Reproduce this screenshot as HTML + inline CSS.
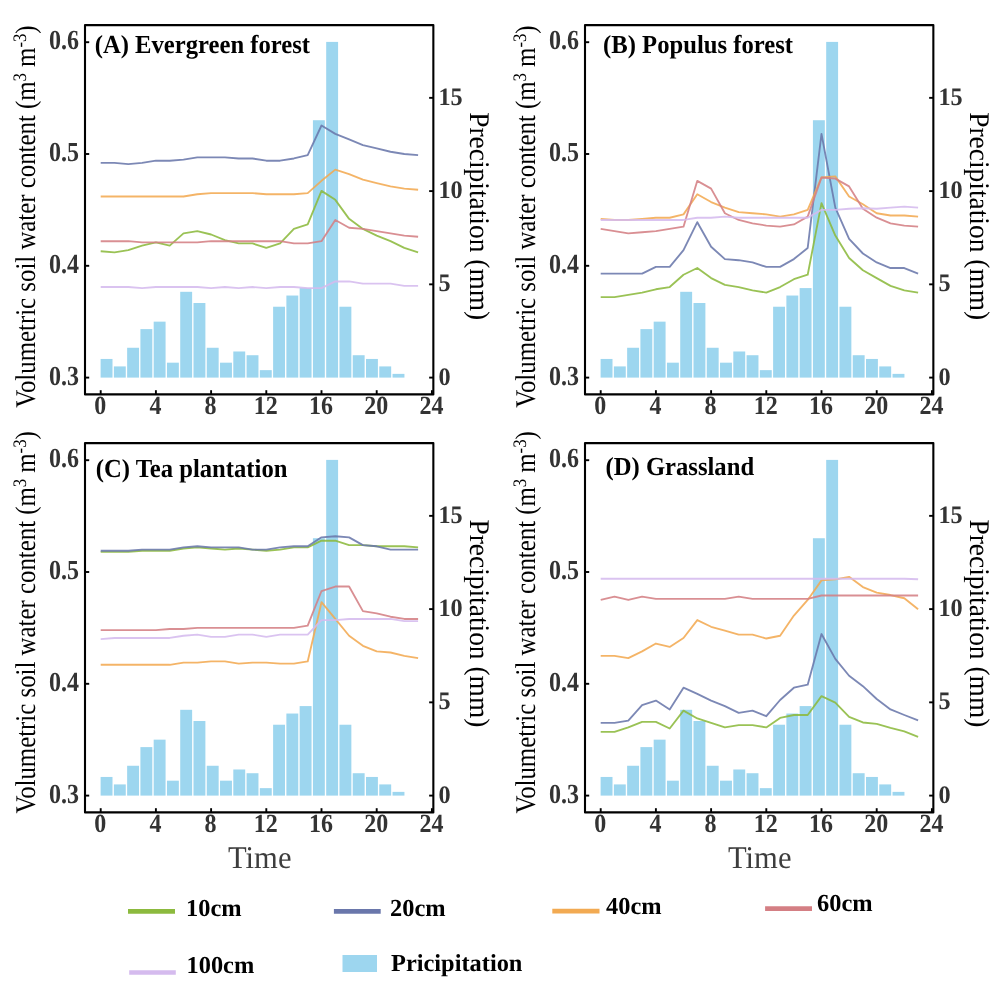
<!DOCTYPE html>
<html><head><meta charset="utf-8"><title>Soil water content</title>
<style>html,body{margin:0;padding:0;background:#fff}svg{display:block;will-change:transform;text-rendering:geometricPrecision}text{font-family:"Liberation Serif",serif}.tk{font-weight:bold;font-size:27.6px;fill:#333333}.ti{font-weight:bold;font-size:26px;fill:#000}.lg{font-weight:bold;font-size:24.4px;fill:#000}.yl{font-size:28.5px;fill:#000}.tm{font-size:31.6px;fill:#3d3d3d}</style></head><body>
<svg width="1000" height="1006" viewBox="0 0 1000 1006">
<rect width="1000" height="1006" fill="#fff"/>
<g transform="translate(0,0)">
<g fill="#9dd6ef">
<rect x="100.6" y="358.95" width="11.9" height="18.65"/>
<rect x="113.87" y="366.41" width="11.9" height="11.19"/>
<rect x="127.14" y="347.76" width="11.9" height="29.84"/>
<rect x="140.41" y="329.11" width="11.9" height="48.49"/>
<rect x="153.68" y="321.65" width="11.9" height="55.95"/>
<rect x="166.95" y="362.68" width="11.9" height="14.92"/>
<rect x="180.22" y="291.81" width="11.9" height="85.79"/>
<rect x="193.49" y="303" width="11.9" height="74.6"/>
<rect x="206.76" y="347.76" width="11.9" height="29.84"/>
<rect x="220.03" y="362.68" width="11.9" height="14.92"/>
<rect x="233.3" y="351.49" width="11.9" height="26.11"/>
<rect x="246.57" y="355.22" width="11.9" height="22.38"/>
<rect x="259.84" y="370.14" width="11.9" height="7.46"/>
<rect x="273.11" y="306.73" width="11.9" height="70.87"/>
<rect x="286.38" y="295.54" width="11.9" height="82.06"/>
<rect x="299.65" y="288.08" width="11.9" height="89.52"/>
<rect x="312.92" y="120.23" width="11.9" height="257.37"/>
<rect x="326.19" y="41.9" width="11.9" height="335.7"/>
<rect x="339.46" y="306.73" width="11.9" height="70.87"/>
<rect x="352.73" y="355.22" width="11.9" height="22.38"/>
<rect x="366" y="358.95" width="11.9" height="18.65"/>
<rect x="379.27" y="366.41" width="11.9" height="11.19"/>
<rect x="392.54" y="373.87" width="11.9" height="3.73"/>
</g>
<g fill="none" stroke-width="1.85" stroke-opacity="0.88" stroke-linejoin="round">
<polyline stroke="#8cba3e" points="100.7,251.27 114.5,252.38 128.3,250.15 142.1,245.68 155.9,242.32 169.7,245.68 183.5,233.38 197.3,231.14 211.1,234.5 224.9,240.09 238.7,243.44 252.5,243.44 266.3,247.91 280.1,243.44 293.9,228.91 307.7,224.43 321.5,190.89 335.3,199.84 349.1,218.84 362.9,228.91 376.7,235.61 390.5,241.2 404.3,247.91 418.1,252.38"/>
<polyline stroke="#6a77ab" points="100.7,162.94 114.5,162.94 128.3,164.06 142.1,162.94 155.9,160.71 169.7,160.71 183.5,159.59 197.3,157.35 211.1,157.35 224.9,157.35 238.7,158.47 252.5,158.47 266.3,160.71 280.1,160.71 293.9,158.47 307.7,155.12 321.5,125.49 335.3,133.88 349.1,139.47 362.9,145.06 376.7,148.41 390.5,151.76 404.3,154 418.1,155.12"/>
<polyline stroke="#f2aa52" points="100.7,196.48 114.5,196.48 128.3,196.48 142.1,196.48 155.9,196.48 169.7,196.48 183.5,196.48 197.3,194.25 211.1,193.13 224.9,193.13 238.7,193.13 252.5,193.13 266.3,194.25 280.1,194.25 293.9,194.25 307.7,193.13 321.5,180.83 335.3,169.65 349.1,174.12 362.9,179.71 376.7,183.07 390.5,186.42 404.3,188.66 418.1,189.78"/>
<polyline stroke="#d47f84" points="100.7,241.2 114.5,241.2 128.3,241.2 142.1,242.32 155.9,242.32 169.7,242.32 183.5,242.32 197.3,242.32 211.1,241.2 224.9,241.2 238.7,241.2 252.5,241.2 266.3,241.2 280.1,241.2 293.9,243.44 307.7,243.44 321.5,241.2 335.3,219.96 349.1,227.79 362.9,228.91 376.7,231.14 390.5,233.38 404.3,235.61 418.1,236.73"/>
<polyline stroke="#d5bbee" points="100.7,287.04 114.5,287.04 128.3,287.04 142.1,288.16 155.9,287.04 169.7,287.04 183.5,287.04 197.3,287.04 211.1,288.16 224.9,287.04 238.7,288.16 252.5,287.04 266.3,288.16 280.1,287.04 293.9,287.04 307.7,288.16 321.5,288.16 335.3,281.45 349.1,281.45 362.9,283.69 376.7,283.69 390.5,283.69 404.3,285.92 418.1,285.92"/>
</g>
<rect x="85" y="25.1" width="348.35" height="369.3" fill="none" stroke="#000" stroke-width="2.1" stroke-linejoin="round"/>
<g stroke="#000" stroke-width="1.9">
<line x1="85" y1="377.6" x2="89.2" y2="377.6"/>
<line x1="85" y1="265.8" x2="89.2" y2="265.8"/>
<line x1="85" y1="154" x2="89.2" y2="154"/>
<line x1="85" y1="42.2" x2="89.2" y2="42.2"/>
<line x1="429.15" y1="377.6" x2="433.35" y2="377.6"/>
<line x1="429.15" y1="284.35" x2="433.35" y2="284.35"/>
<line x1="429.15" y1="191.1" x2="433.35" y2="191.1"/>
<line x1="429.15" y1="97.85" x2="433.35" y2="97.85"/>
<line x1="100.7" y1="390.2" x2="100.7" y2="394.4"/>
<line x1="155.9" y1="390.2" x2="155.9" y2="394.4"/>
<line x1="211.1" y1="390.2" x2="211.1" y2="394.4"/>
<line x1="266.3" y1="390.2" x2="266.3" y2="394.4"/>
<line x1="321.5" y1="390.2" x2="321.5" y2="394.4"/>
<line x1="376.7" y1="390.2" x2="376.7" y2="394.4"/>
<line x1="431.9" y1="390.2" x2="431.9" y2="394.4"/>
</g>
<text class="tk" transform="translate(79,384.6) scale(0.87,1)" text-anchor="end">0.3</text>
<text class="tk" transform="translate(79,272.8) scale(0.87,1)" text-anchor="end">0.4</text>
<text class="tk" transform="translate(79,161) scale(0.87,1)" text-anchor="end">0.5</text>
<text class="tk" transform="translate(79,49.2) scale(0.87,1)" text-anchor="end">0.6</text>
<text class="tk" style="font-size:25.1px" transform="translate(438.4,384.5) scale(0.965,1)">0</text>
<text class="tk" style="font-size:25.1px" transform="translate(438.4,291.25) scale(0.965,1)">5</text>
<text class="tk" style="font-size:25.1px" transform="translate(438.4,198) scale(0.965,1)">10</text>
<text class="tk" style="font-size:25.1px" transform="translate(438.4,104.75) scale(0.965,1)">15</text>
<text class="tk" style="font-size:26.2px" transform="translate(100.2,413.9) scale(0.916,1)" text-anchor="middle">0</text>
<text class="tk" style="font-size:26.2px" transform="translate(155.4,413.9) scale(0.916,1)" text-anchor="middle">4</text>
<text class="tk" style="font-size:26.2px" transform="translate(210.6,413.9) scale(0.916,1)" text-anchor="middle">8</text>
<text class="tk" style="font-size:26.2px" transform="translate(265.8,413.9) scale(0.916,1)" text-anchor="middle">12</text>
<text class="tk" style="font-size:26.2px" transform="translate(321,413.9) scale(0.916,1)" text-anchor="middle">16</text>
<text class="tk" style="font-size:26.2px" transform="translate(376.2,413.9) scale(0.916,1)" text-anchor="middle">20</text>
<text class="tk" style="font-size:26.2px" transform="translate(431.4,413.9) scale(0.916,1)" text-anchor="middle">24</text>
<text class="yl" transform="translate(34.8,407.8) rotate(-90)" textLength="382.3" lengthAdjust="spacingAndGlyphs">Volumetric soil water content (m<tspan dy="-9.3" font-size="19">3</tspan><tspan dy="9.3"> m</tspan><tspan dy="-9.3" font-size="19">-3</tspan><tspan dy="9.3">)</tspan></text>
<text class="yl" transform="translate(469.8,112.2) rotate(90)" textLength="208" lengthAdjust="spacingAndGlyphs">Precipitation (mm)</text>
<text class="ti" transform="translate(94.7,52.8) scale(0.948,1)">(A) Evergreen forest</text>
</g>
<g transform="translate(500,0)">
<g fill="#9dd6ef">
<rect x="100.6" y="358.95" width="11.9" height="18.65"/>
<rect x="113.87" y="366.41" width="11.9" height="11.19"/>
<rect x="127.14" y="347.76" width="11.9" height="29.84"/>
<rect x="140.41" y="329.11" width="11.9" height="48.49"/>
<rect x="153.68" y="321.65" width="11.9" height="55.95"/>
<rect x="166.95" y="362.68" width="11.9" height="14.92"/>
<rect x="180.22" y="291.81" width="11.9" height="85.79"/>
<rect x="193.49" y="303" width="11.9" height="74.6"/>
<rect x="206.76" y="347.76" width="11.9" height="29.84"/>
<rect x="220.03" y="362.68" width="11.9" height="14.92"/>
<rect x="233.3" y="351.49" width="11.9" height="26.11"/>
<rect x="246.57" y="355.22" width="11.9" height="22.38"/>
<rect x="259.84" y="370.14" width="11.9" height="7.46"/>
<rect x="273.11" y="306.73" width="11.9" height="70.87"/>
<rect x="286.38" y="295.54" width="11.9" height="82.06"/>
<rect x="299.65" y="288.08" width="11.9" height="89.52"/>
<rect x="312.92" y="120.23" width="11.9" height="257.37"/>
<rect x="326.19" y="41.9" width="11.9" height="335.7"/>
<rect x="339.46" y="306.73" width="11.9" height="70.87"/>
<rect x="352.73" y="355.22" width="11.9" height="22.38"/>
<rect x="366" y="358.95" width="11.9" height="18.65"/>
<rect x="379.27" y="366.41" width="11.9" height="11.19"/>
<rect x="392.54" y="373.87" width="11.9" height="3.73"/>
</g>
<g fill="none" stroke-width="1.85" stroke-opacity="0.88" stroke-linejoin="round">
<polyline stroke="#8cba3e" points="100.7,297.1 114.5,297.1 128.3,294.87 142.1,292.63 155.9,289.28 169.7,287.04 183.5,274.74 197.3,268.04 211.1,278.1 224.9,284.81 238.7,287.04 252.5,290.4 266.3,292.63 280.1,287.04 293.9,279.22 307.7,274.74 321.5,203.19 335.3,235.61 349.1,257.97 362.9,270.27 376.7,278.1 390.5,285.92 404.3,290.4 418.1,292.63"/>
<polyline stroke="#6a77ab" points="100.7,273.63 114.5,273.63 128.3,273.63 142.1,273.63 155.9,266.92 169.7,266.92 183.5,250.15 197.3,222.2 211.1,246.79 224.9,259.09 238.7,260.21 252.5,262.45 266.3,266.92 280.1,266.92 293.9,259.09 307.7,247.91 321.5,133.88 335.3,207.66 349.1,238.97 362.9,253.5 376.7,262.45 390.5,268.04 404.3,268.04 418.1,273.63"/>
<polyline stroke="#f2aa52" points="100.7,218.84 114.5,219.96 128.3,219.96 142.1,218.84 155.9,217.73 169.7,217.73 183.5,214.37 197.3,194.25 211.1,202.07 224.9,207.66 238.7,212.14 252.5,213.25 266.3,214.37 280.1,216.61 293.9,214.37 307.7,209.9 321.5,177.48 335.3,176.36 349.1,196.48 362.9,204.31 376.7,213.25 390.5,215.49 404.3,215.49 418.1,216.61"/>
<polyline stroke="#d47f84" points="100.7,228.91 114.5,231.14 128.3,233.38 142.1,232.26 155.9,231.14 169.7,228.91 183.5,226.67 197.3,180.83 211.1,188.66 224.9,213.25 238.7,219.96 252.5,223.32 266.3,225.55 280.1,226.67 293.9,224.43 307.7,216.61 321.5,177.48 335.3,178.6 349.1,186.42 362.9,208.78 376.7,217.73 390.5,223.32 404.3,225.55 418.1,226.67"/>
<polyline stroke="#d5bbee" points="100.7,219.96 114.5,219.96 128.3,219.96 142.1,219.96 155.9,219.96 169.7,219.96 183.5,219.96 197.3,217.73 211.1,217.73 224.9,216.61 238.7,217.73 252.5,217.73 266.3,217.73 280.1,217.73 293.9,217.73 307.7,217.73 321.5,209.9 335.3,209.9 349.1,208.78 362.9,208.22 376.7,208.78 390.5,207.66 404.3,206.55 418.1,207.66"/>
</g>
<rect x="85" y="25.1" width="348.35" height="369.3" fill="none" stroke="#000" stroke-width="2.1" stroke-linejoin="round"/>
<g stroke="#000" stroke-width="1.9">
<line x1="85" y1="377.6" x2="89.2" y2="377.6"/>
<line x1="85" y1="265.8" x2="89.2" y2="265.8"/>
<line x1="85" y1="154" x2="89.2" y2="154"/>
<line x1="85" y1="42.2" x2="89.2" y2="42.2"/>
<line x1="429.15" y1="377.6" x2="433.35" y2="377.6"/>
<line x1="429.15" y1="284.35" x2="433.35" y2="284.35"/>
<line x1="429.15" y1="191.1" x2="433.35" y2="191.1"/>
<line x1="429.15" y1="97.85" x2="433.35" y2="97.85"/>
<line x1="100.7" y1="390.2" x2="100.7" y2="394.4"/>
<line x1="155.9" y1="390.2" x2="155.9" y2="394.4"/>
<line x1="211.1" y1="390.2" x2="211.1" y2="394.4"/>
<line x1="266.3" y1="390.2" x2="266.3" y2="394.4"/>
<line x1="321.5" y1="390.2" x2="321.5" y2="394.4"/>
<line x1="376.7" y1="390.2" x2="376.7" y2="394.4"/>
<line x1="431.9" y1="390.2" x2="431.9" y2="394.4"/>
</g>
<text class="tk" transform="translate(79,384.6) scale(0.87,1)" text-anchor="end">0.3</text>
<text class="tk" transform="translate(79,272.8) scale(0.87,1)" text-anchor="end">0.4</text>
<text class="tk" transform="translate(79,161) scale(0.87,1)" text-anchor="end">0.5</text>
<text class="tk" transform="translate(79,49.2) scale(0.87,1)" text-anchor="end">0.6</text>
<text class="tk" style="font-size:25.1px" transform="translate(438.4,384.5) scale(0.965,1)">0</text>
<text class="tk" style="font-size:25.1px" transform="translate(438.4,291.25) scale(0.965,1)">5</text>
<text class="tk" style="font-size:25.1px" transform="translate(438.4,198) scale(0.965,1)">10</text>
<text class="tk" style="font-size:25.1px" transform="translate(438.4,104.75) scale(0.965,1)">15</text>
<text class="tk" style="font-size:26.2px" transform="translate(100.2,413.9) scale(0.916,1)" text-anchor="middle">0</text>
<text class="tk" style="font-size:26.2px" transform="translate(155.4,413.9) scale(0.916,1)" text-anchor="middle">4</text>
<text class="tk" style="font-size:26.2px" transform="translate(210.6,413.9) scale(0.916,1)" text-anchor="middle">8</text>
<text class="tk" style="font-size:26.2px" transform="translate(265.8,413.9) scale(0.916,1)" text-anchor="middle">12</text>
<text class="tk" style="font-size:26.2px" transform="translate(321,413.9) scale(0.916,1)" text-anchor="middle">16</text>
<text class="tk" style="font-size:26.2px" transform="translate(376.2,413.9) scale(0.916,1)" text-anchor="middle">20</text>
<text class="tk" style="font-size:26.2px" transform="translate(431.4,413.9) scale(0.916,1)" text-anchor="middle">24</text>
<text class="yl" transform="translate(34.8,407.8) rotate(-90)" textLength="382.3" lengthAdjust="spacingAndGlyphs">Volumetric soil water content (m<tspan dy="-9.3" font-size="19">3</tspan><tspan dy="9.3"> m</tspan><tspan dy="-9.3" font-size="19">-3</tspan><tspan dy="9.3">)</tspan></text>
<text class="yl" transform="translate(469.8,112.2) rotate(90)" textLength="208" lengthAdjust="spacingAndGlyphs">Precipitation (mm)</text>
<text class="ti" transform="translate(103.1,52.8) scale(0.948,1)">(B) Populus forest</text>
</g>
<g transform="translate(0,418)">
<g fill="#9dd6ef">
<rect x="100.6" y="358.95" width="11.9" height="18.65"/>
<rect x="113.87" y="366.41" width="11.9" height="11.19"/>
<rect x="127.14" y="347.76" width="11.9" height="29.84"/>
<rect x="140.41" y="329.11" width="11.9" height="48.49"/>
<rect x="153.68" y="321.65" width="11.9" height="55.95"/>
<rect x="166.95" y="362.68" width="11.9" height="14.92"/>
<rect x="180.22" y="291.81" width="11.9" height="85.79"/>
<rect x="193.49" y="303" width="11.9" height="74.6"/>
<rect x="206.76" y="347.76" width="11.9" height="29.84"/>
<rect x="220.03" y="362.68" width="11.9" height="14.92"/>
<rect x="233.3" y="351.49" width="11.9" height="26.11"/>
<rect x="246.57" y="355.22" width="11.9" height="22.38"/>
<rect x="259.84" y="370.14" width="11.9" height="7.46"/>
<rect x="273.11" y="306.73" width="11.9" height="70.87"/>
<rect x="286.38" y="295.54" width="11.9" height="82.06"/>
<rect x="299.65" y="288.08" width="11.9" height="89.52"/>
<rect x="312.92" y="120.23" width="11.9" height="257.37"/>
<rect x="326.19" y="41.9" width="11.9" height="335.7"/>
<rect x="339.46" y="306.73" width="11.9" height="70.87"/>
<rect x="352.73" y="355.22" width="11.9" height="22.38"/>
<rect x="366" y="358.95" width="11.9" height="18.65"/>
<rect x="379.27" y="366.41" width="11.9" height="11.19"/>
<rect x="392.54" y="373.87" width="11.9" height="3.73"/>
</g>
<g fill="none" stroke-width="1.85" stroke-opacity="0.88" stroke-linejoin="round">
<polyline stroke="#8cba3e" points="100.7,133.88 114.5,133.88 128.3,133.88 142.1,132.76 155.9,132.76 169.7,132.76 183.5,130.52 197.3,129.4 211.1,130.52 224.9,131.64 238.7,130.52 252.5,131.64 266.3,132.76 280.1,131.64 293.9,129.4 307.7,129.4 321.5,122.7 335.3,122.7 349.1,127.17 362.9,127.17 376.7,128.29 390.5,128.29 404.3,128.29 418.1,129.4"/>
<polyline stroke="#6a77ab" points="100.7,132.76 114.5,132.76 128.3,132.76 142.1,131.64 155.9,131.64 169.7,131.64 183.5,129.4 197.3,128.29 211.1,129.4 224.9,129.4 238.7,129.4 252.5,131.64 266.3,131.64 280.1,129.4 293.9,128.29 307.7,128.29 321.5,119.34 335.3,118.22 349.1,119.34 362.9,127.17 376.7,128.29 390.5,131.64 404.3,131.64 418.1,131.64"/>
<polyline stroke="#f2aa52" points="100.7,246.79 114.5,246.79 128.3,246.79 142.1,246.79 155.9,246.79 169.7,246.79 183.5,244.56 197.3,244.56 211.1,243.44 224.9,243.44 238.7,245.68 252.5,244.56 266.3,244.56 280.1,245.68 293.9,245.68 307.7,243.44 321.5,184.19 335.3,200.96 349.1,217.73 362.9,227.79 376.7,233.38 390.5,234.5 404.3,237.85 418.1,240.09"/>
<polyline stroke="#d47f84" points="100.7,212.14 114.5,212.14 128.3,212.14 142.1,212.14 155.9,212.14 169.7,211.02 183.5,211.02 197.3,209.9 211.1,209.9 224.9,209.9 238.7,209.9 252.5,209.9 266.3,209.9 280.1,209.9 293.9,209.9 307.7,207.66 321.5,173.01 335.3,168.53 349.1,168.53 362.9,193.13 376.7,195.37 390.5,198.72 404.3,200.96 418.1,200.96"/>
<polyline stroke="#d5bbee" points="100.7,221.08 114.5,219.96 128.3,219.96 142.1,219.96 155.9,219.96 169.7,219.96 183.5,217.73 197.3,216.61 211.1,218.84 224.9,218.84 238.7,216.61 252.5,216.61 266.3,218.84 280.1,216.61 293.9,216.61 307.7,216.61 321.5,202.07 335.3,202.07 349.1,200.96 362.9,200.96 376.7,200.96 390.5,200.96 404.3,203.19 418.1,203.19"/>
</g>
<rect x="85" y="25.1" width="348.35" height="369.3" fill="none" stroke="#000" stroke-width="2.1" stroke-linejoin="round"/>
<g stroke="#000" stroke-width="1.9">
<line x1="85" y1="377.6" x2="89.2" y2="377.6"/>
<line x1="85" y1="265.8" x2="89.2" y2="265.8"/>
<line x1="85" y1="154" x2="89.2" y2="154"/>
<line x1="85" y1="42.2" x2="89.2" y2="42.2"/>
<line x1="429.15" y1="377.6" x2="433.35" y2="377.6"/>
<line x1="429.15" y1="284.35" x2="433.35" y2="284.35"/>
<line x1="429.15" y1="191.1" x2="433.35" y2="191.1"/>
<line x1="429.15" y1="97.85" x2="433.35" y2="97.85"/>
<line x1="100.7" y1="390.2" x2="100.7" y2="394.4"/>
<line x1="155.9" y1="390.2" x2="155.9" y2="394.4"/>
<line x1="211.1" y1="390.2" x2="211.1" y2="394.4"/>
<line x1="266.3" y1="390.2" x2="266.3" y2="394.4"/>
<line x1="321.5" y1="390.2" x2="321.5" y2="394.4"/>
<line x1="376.7" y1="390.2" x2="376.7" y2="394.4"/>
<line x1="431.9" y1="390.2" x2="431.9" y2="394.4"/>
</g>
<text class="tk" transform="translate(79,384.6) scale(0.87,1)" text-anchor="end">0.3</text>
<text class="tk" transform="translate(79,272.8) scale(0.87,1)" text-anchor="end">0.4</text>
<text class="tk" transform="translate(79,161) scale(0.87,1)" text-anchor="end">0.5</text>
<text class="tk" transform="translate(79,49.2) scale(0.87,1)" text-anchor="end">0.6</text>
<text class="tk" style="font-size:25.1px" transform="translate(438.4,384.5) scale(0.965,1)">0</text>
<text class="tk" style="font-size:25.1px" transform="translate(438.4,291.25) scale(0.965,1)">5</text>
<text class="tk" style="font-size:25.1px" transform="translate(438.4,198) scale(0.965,1)">10</text>
<text class="tk" style="font-size:25.1px" transform="translate(438.4,104.75) scale(0.965,1)">15</text>
<text class="tk" style="font-size:26.2px" transform="translate(100.2,413.9) scale(0.916,1)" text-anchor="middle">0</text>
<text class="tk" style="font-size:26.2px" transform="translate(155.4,413.9) scale(0.916,1)" text-anchor="middle">4</text>
<text class="tk" style="font-size:26.2px" transform="translate(210.6,413.9) scale(0.916,1)" text-anchor="middle">8</text>
<text class="tk" style="font-size:26.2px" transform="translate(265.8,413.9) scale(0.916,1)" text-anchor="middle">12</text>
<text class="tk" style="font-size:26.2px" transform="translate(321,413.9) scale(0.916,1)" text-anchor="middle">16</text>
<text class="tk" style="font-size:26.2px" transform="translate(376.2,413.9) scale(0.916,1)" text-anchor="middle">20</text>
<text class="tk" style="font-size:26.2px" transform="translate(431.4,413.9) scale(0.916,1)" text-anchor="middle">24</text>
<text class="yl" transform="translate(34.8,395.6) rotate(-90)" textLength="382.3" lengthAdjust="spacingAndGlyphs">Volumetric soil water content (m<tspan dy="-9.3" font-size="19">3</tspan><tspan dy="9.3"> m</tspan><tspan dy="-9.3" font-size="19">-3</tspan><tspan dy="9.3">)</tspan></text>
<text class="yl" transform="translate(469.8,101.4) rotate(90)" textLength="208" lengthAdjust="spacingAndGlyphs">Precipitation (mm)</text>
<text class="ti" transform="translate(95.7,59) scale(0.948,1)">(C) Tea plantation</text>
</g>
<g transform="translate(500,418)">
<g fill="#9dd6ef">
<rect x="100.6" y="358.95" width="11.9" height="18.65"/>
<rect x="113.87" y="366.41" width="11.9" height="11.19"/>
<rect x="127.14" y="347.76" width="11.9" height="29.84"/>
<rect x="140.41" y="329.11" width="11.9" height="48.49"/>
<rect x="153.68" y="321.65" width="11.9" height="55.95"/>
<rect x="166.95" y="362.68" width="11.9" height="14.92"/>
<rect x="180.22" y="291.81" width="11.9" height="85.79"/>
<rect x="193.49" y="303" width="11.9" height="74.6"/>
<rect x="206.76" y="347.76" width="11.9" height="29.84"/>
<rect x="220.03" y="362.68" width="11.9" height="14.92"/>
<rect x="233.3" y="351.49" width="11.9" height="26.11"/>
<rect x="246.57" y="355.22" width="11.9" height="22.38"/>
<rect x="259.84" y="370.14" width="11.9" height="7.46"/>
<rect x="273.11" y="306.73" width="11.9" height="70.87"/>
<rect x="286.38" y="295.54" width="11.9" height="82.06"/>
<rect x="299.65" y="288.08" width="11.9" height="89.52"/>
<rect x="312.92" y="120.23" width="11.9" height="257.37"/>
<rect x="326.19" y="41.9" width="11.9" height="335.7"/>
<rect x="339.46" y="306.73" width="11.9" height="70.87"/>
<rect x="352.73" y="355.22" width="11.9" height="22.38"/>
<rect x="366" y="358.95" width="11.9" height="18.65"/>
<rect x="379.27" y="366.41" width="11.9" height="11.19"/>
<rect x="392.54" y="373.87" width="11.9" height="3.73"/>
</g>
<g fill="none" stroke-width="1.85" stroke-opacity="0.88" stroke-linejoin="round">
<polyline stroke="#8cba3e" points="100.7,313.87 114.5,313.87 128.3,309.4 142.1,303.81 155.9,303.81 169.7,310.52 183.5,292.63 197.3,300.46 211.1,304.93 224.9,309.4 238.7,307.17 252.5,307.17 266.3,309.4 280.1,299.9 293.9,296.99 307.7,296.99 321.5,278.1 335.3,284.58 349.1,298.89 362.9,304.48 376.7,305.94 390.5,309.85 404.3,313.43 418.1,318.79"/>
<polyline stroke="#6a77ab" points="100.7,304.93 114.5,304.93 128.3,302.69 142.1,287.04 155.9,282.57 169.7,291.51 183.5,269.71 197.3,275.86 211.1,282.57 224.9,288.16 238.7,294.87 252.5,292.63 266.3,298.22 280.1,282.01 293.9,269.71 307.7,266.69 321.5,216.05 335.3,240.87 349.1,257.75 362.9,268.15 376.7,281 390.5,291.4 404.3,296.99 418.1,302.36"/>
<polyline stroke="#f2aa52" points="100.7,237.85 114.5,237.85 128.3,240.09 142.1,233.38 155.9,225.55 169.7,228.91 183.5,219.96 197.3,202.07 211.1,208.78 224.9,212.69 238.7,216.61 252.5,216.61 266.3,220.52 280.1,217.73 293.9,197.6 307.7,181.95 321.5,162.39 335.3,161.38 349.1,158.81 362.9,169.09 376.7,174.68 390.5,177.03 404.3,180.27 418.1,191.23"/>
<polyline stroke="#d47f84" points="100.7,181.95 114.5,178.6 128.3,181.95 142.1,178.6 155.9,180.83 169.7,180.83 183.5,180.83 197.3,180.83 211.1,180.83 224.9,180.83 238.7,178.6 252.5,180.83 266.3,180.83 280.1,180.83 293.9,180.83 307.7,180.83 321.5,177.48 335.3,177.48 349.1,177.48 362.9,177.48 376.7,177.48 390.5,177.48 404.3,177.48 418.1,177.48"/>
<polyline stroke="#d5bbee" points="100.7,160.71 114.5,160.71 128.3,160.71 142.1,160.71 155.9,160.71 169.7,160.71 183.5,160.71 197.3,160.71 211.1,160.71 224.9,160.71 238.7,160.71 252.5,160.71 266.3,160.71 280.1,160.71 293.9,160.71 307.7,160.71 321.5,160.71 335.3,160.71 349.1,160.71 362.9,160.71 376.7,160.71 390.5,160.71 404.3,160.71 418.1,161.27"/>
</g>
<rect x="85" y="25.1" width="348.35" height="369.3" fill="none" stroke="#000" stroke-width="2.1" stroke-linejoin="round"/>
<g stroke="#000" stroke-width="1.9">
<line x1="85" y1="377.6" x2="89.2" y2="377.6"/>
<line x1="85" y1="265.8" x2="89.2" y2="265.8"/>
<line x1="85" y1="154" x2="89.2" y2="154"/>
<line x1="85" y1="42.2" x2="89.2" y2="42.2"/>
<line x1="429.15" y1="377.6" x2="433.35" y2="377.6"/>
<line x1="429.15" y1="284.35" x2="433.35" y2="284.35"/>
<line x1="429.15" y1="191.1" x2="433.35" y2="191.1"/>
<line x1="429.15" y1="97.85" x2="433.35" y2="97.85"/>
<line x1="100.7" y1="390.2" x2="100.7" y2="394.4"/>
<line x1="155.9" y1="390.2" x2="155.9" y2="394.4"/>
<line x1="211.1" y1="390.2" x2="211.1" y2="394.4"/>
<line x1="266.3" y1="390.2" x2="266.3" y2="394.4"/>
<line x1="321.5" y1="390.2" x2="321.5" y2="394.4"/>
<line x1="376.7" y1="390.2" x2="376.7" y2="394.4"/>
<line x1="431.9" y1="390.2" x2="431.9" y2="394.4"/>
</g>
<text class="tk" transform="translate(79,384.6) scale(0.87,1)" text-anchor="end">0.3</text>
<text class="tk" transform="translate(79,272.8) scale(0.87,1)" text-anchor="end">0.4</text>
<text class="tk" transform="translate(79,161) scale(0.87,1)" text-anchor="end">0.5</text>
<text class="tk" transform="translate(79,49.2) scale(0.87,1)" text-anchor="end">0.6</text>
<text class="tk" style="font-size:25.1px" transform="translate(438.4,384.5) scale(0.965,1)">0</text>
<text class="tk" style="font-size:25.1px" transform="translate(438.4,291.25) scale(0.965,1)">5</text>
<text class="tk" style="font-size:25.1px" transform="translate(438.4,198) scale(0.965,1)">10</text>
<text class="tk" style="font-size:25.1px" transform="translate(438.4,104.75) scale(0.965,1)">15</text>
<text class="tk" style="font-size:26.2px" transform="translate(100.2,413.9) scale(0.916,1)" text-anchor="middle">0</text>
<text class="tk" style="font-size:26.2px" transform="translate(155.4,413.9) scale(0.916,1)" text-anchor="middle">4</text>
<text class="tk" style="font-size:26.2px" transform="translate(210.6,413.9) scale(0.916,1)" text-anchor="middle">8</text>
<text class="tk" style="font-size:26.2px" transform="translate(265.8,413.9) scale(0.916,1)" text-anchor="middle">12</text>
<text class="tk" style="font-size:26.2px" transform="translate(321,413.9) scale(0.916,1)" text-anchor="middle">16</text>
<text class="tk" style="font-size:26.2px" transform="translate(376.2,413.9) scale(0.916,1)" text-anchor="middle">20</text>
<text class="tk" style="font-size:26.2px" transform="translate(431.4,413.9) scale(0.916,1)" text-anchor="middle">24</text>
<text class="yl" transform="translate(34.8,395.6) rotate(-90)" textLength="382.3" lengthAdjust="spacingAndGlyphs">Volumetric soil water content (m<tspan dy="-9.3" font-size="19">3</tspan><tspan dy="9.3"> m</tspan><tspan dy="-9.3" font-size="19">-3</tspan><tspan dy="9.3">)</tspan></text>
<text class="yl" transform="translate(469.8,101.4) rotate(90)" textLength="208" lengthAdjust="spacingAndGlyphs">Precipitation (mm)</text>
<text class="ti" transform="translate(105.5,57.2) scale(0.948,1)">(D) Grassland</text>
</g>
<text class="tm" transform="translate(228,867.8) scale(0.968,1)">Time</text>
<text class="tm" transform="translate(728,867.8) scale(0.968,1)">Time</text>
<line x1="128" y1="911.4" x2="175" y2="911.4" stroke="#8cba3e" stroke-width="4.7"/>
<text class="lg" x="186" y="916.3">10cm</text>
<line x1="333.9" y1="911.4" x2="380.7" y2="911.4" stroke="#6a77ab" stroke-width="4.7"/>
<text class="lg" x="390" y="916.3">20cm</text>
<line x1="552.3" y1="911.2" x2="599.5" y2="911.2" stroke="#f2aa52" stroke-width="4.7"/>
<text class="lg" x="606" y="914">40cm</text>
<line x1="765.1" y1="908.7" x2="812" y2="908.7" stroke="#d47f84" stroke-width="4.7"/>
<text class="lg" x="817" y="910.8">60cm</text>
<line x1="129.2" y1="972.5" x2="175.8" y2="972.5" stroke="#d5bbee" stroke-width="4.7"/>
<text class="lg" x="186.5" y="973.3">100cm</text>
<rect x="342.5" y="955" width="34.5" height="17" fill="#9dd6ef"/>
<text class="lg" x="391" y="971.3">Pricipitation</text>
</svg></body></html>
